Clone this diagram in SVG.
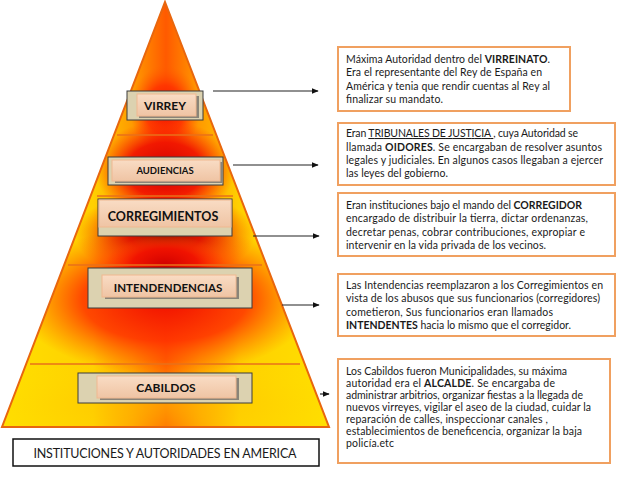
<svg xmlns="http://www.w3.org/2000/svg" width="638" height="479" viewBox="0 0 638 479">
<style>
.lbl{font-family:Lato,"Open Sans","Liberation Sans",sans-serif;font-weight:bold;fill:#111;text-anchor:middle}
.txt{font-family:Lato,"Open Sans","Liberation Sans",sans-serif;font-size:10.5px;fill:#1a1a1a}
.b{font-weight:bold}
.box{fill:#fff;stroke:#f0a060;stroke-width:2}
.outer{fill:#dcd2b0;stroke:#3c3c3c;stroke-width:1}
.inner{fill:url(#peach);stroke:#f0b890;stroke-width:1}
.shadow{fill:#8a8478}
.band{stroke:#e8701a;stroke-width:1.5}
.conn{stroke:#222;stroke-width:1.2;fill:none;marker-end:url(#ah)}
</style>
<defs>
<marker id="ah" viewBox="0 0 10 10" refX="9" refY="5" markerWidth="7" markerHeight="7" orient="auto" markerUnits="userSpaceOnUse"><path d="M0,1 L10,5 L0,9 z" fill="#111"/></marker>
<linearGradient id="hz" x1="0" y1="0" x2="1" y2="0">
<stop offset="0" stop-color="#ffe000"/>
<stop offset="0.28" stop-color="#ffd000"/>
<stop offset="0.4" stop-color="#ff9a00"/>
<stop offset="0.5" stop-color="#ff5a00"/>
<stop offset="0.6" stop-color="#ff9a00"/>
<stop offset="0.72" stop-color="#ffd000"/>
<stop offset="1" stop-color="#ffe000"/>
</linearGradient>
<radialGradient id="r1"><stop offset="0" stop-color="#d00000"/><stop offset="0.55" stop-color="#f01000" stop-opacity="0.9"/><stop offset="1" stop-color="#ff4000" stop-opacity="0"/></radialGradient>
<radialGradient id="r2"><stop offset="0" stop-color="#700000"/><stop offset="0.4" stop-color="#d00000"/><stop offset="1" stop-color="#ff3000" stop-opacity="0"/></radialGradient>
<radialGradient id="r3"><stop offset="0" stop-color="#f01000"/><stop offset="0.55" stop-color="#ff3000" stop-opacity="0.85"/><stop offset="1" stop-color="#ff6000" stop-opacity="0"/></radialGradient>
<radialGradient id="r4"><stop offset="0" stop-color="#ffc000"/><stop offset="1" stop-color="#ffe000" stop-opacity="0"/></radialGradient>
<linearGradient id="peach" x1="0" y1="0" x2="0" y2="1"><stop offset="0" stop-color="#f9dcc4"/><stop offset="1" stop-color="#efc4a4"/></linearGradient>
<clipPath id="pyr"><polygon points="165,2 329,427 2,427"/></clipPath>
</defs>

<g id="pyramid">
<g clip-path="url(#pyr)">
<rect x="0" y="0" width="332" height="430" fill="url(#hz)"/>
<ellipse cx="165" cy="110" rx="35" ry="45" fill="url(#r3)"/>
<ellipse cx="165" cy="170" rx="70" ry="50" fill="url(#r1)"/>
<ellipse cx="165" cy="235" rx="90" ry="45" fill="url(#r2)"/>
<ellipse cx="165" cy="300" rx="150" ry="75" fill="url(#r3)"/>
<ellipse cx="165" cy="265" rx="60" ry="30" fill="url(#r1)"/>
<ellipse cx="165" cy="405" rx="220" ry="45" fill="url(#r4)" opacity="0.6"/>
</g>
<polygon points="165,2 329,427 2,427" fill="none" stroke="#e8660e" stroke-width="2"/>
<line class="band" x1="117" y1="135" x2="213" y2="135"/>
<line class="band" x1="97" y1="196" x2="233" y2="196"/>
<line class="band" x1="68" y1="265" x2="262" y2="265"/>
<line class="band" x1="30" y1="364" x2="300" y2="364"/>
</g>

<g id="virrey">
<rect class="outer" x="127" y="91" width="76" height="29"/>
<rect class="shadow" x="139" y="96" width="60" height="22"/>
<rect class="inner" x="137" y="94" width="59" height="22"/>
<text class="lbl" x="165" y="110" font-size="12">VIRREY</text>
</g>

<g id="audiencias">
<rect class="outer" x="108" y="157" width="115" height="28"/>
<rect class="shadow" x="115" y="162" width="108" height="21"/>
<rect class="inner" x="112" y="160" width="108" height="21"/>
<text class="lbl" x="165" y="174" font-size="9.5">AUDIENCIAS</text>
</g>

<g id="corregimientos">
<rect class="outer" x="98" y="199" width="134" height="37"/>
<rect class="inner" x="99" y="200" width="132" height="27"/>
<text class="lbl" x="163" y="221" font-size="12.5">CORREGIMIENTOS</text>
</g>

<g id="intendencias">
<rect class="outer" x="88" y="268" width="164" height="40"/>
<rect class="shadow" x="105" y="277" width="134" height="22"/>
<rect class="inner" x="102" y="275" width="134" height="22"/>
<text class="lbl" x="168" y="292" font-size="11.5">INTENDENDENCIAS</text>
</g>

<g id="cabildos">
<rect class="outer" x="78" y="373" width="174" height="30"/>
<rect class="shadow" x="100" y="378" width="139" height="22"/>
<rect class="inner" x="97" y="376" width="139" height="22"/>
<text class="lbl" x="166" y="392" font-size="12">CABILDOS</text>
</g>

<g id="title">
<rect x="13" y="439" width="306" height="27" fill="#fff" stroke="#111" stroke-width="1.5"/>
<text x="165" y="458" font-family="Lato,'Open Sans','Liberation Sans',sans-serif" font-size="12.5" fill="#1a1a1a" text-anchor="middle" textLength="263">INSTITUCIONES Y AUTORIDADES EN AMERICA</text>
</g>

<g id="connectors">
<line class="conn" x1="213" y1="91" x2="318" y2="91"/>
<line class="conn" x1="233" y1="165" x2="318" y2="165"/>
<line class="conn" x1="253" y1="236" x2="319" y2="236"/>
<line class="conn" x1="282" y1="305" x2="319" y2="305"/>
<line class="conn" x1="320" y1="394" x2="329" y2="394"/>
</g>

<g id="desc-virrey">
<rect class="box" x="338" y="47" width="232" height="64"/>
<text class="txt" x="346" y="63" textLength="204">Máxima Autoridad dentro del <tspan class="b">VIRREINATO</tspan>.</text>
<text class="txt" x="346" y="76" textLength="196">Era el representante del Rey de España en</text>
<text class="txt" x="346" y="90" textLength="204">América y tenia que rendir cuentas al Rey al</text>
<text class="txt" x="346" y="103" textLength="97">finalizar su mandato.</text>
</g>

<g id="desc-audiencias">
<rect class="box" x="338" y="123" width="277" height="62"/>
<text class="txt" x="346" y="137" textLength="232">Eran <tspan text-decoration="underline">TRIBUNALES DE JUSTICIA </tspan>, cuya Autoridad se</text>
<text class="txt" x="346" y="151" textLength="256">llamada <tspan class="b">OIDORES</tspan>. Se encargaban de resolver asuntos</text>
<text class="txt" x="346" y="164" textLength="257">legales y judiciales. En algunos casos llegaban a ejercer</text>
<text class="txt" x="346" y="177" textLength="102">las leyes del gobierno.</text>
</g>

<g id="desc-corregimientos">
<rect class="box" x="338" y="193" width="277" height="63"/>
<text class="txt" x="346" y="209" textLength="236">Eran instituciones bajo el mando del <tspan class="b">CORREGIDOR</tspan></text>
<text class="txt" x="346" y="222" textLength="242">encargado de  distribuir la tierra, dictar ordenanzas,</text>
<text class="txt" x="346" y="236" textLength="239">decretar penas,  cobrar contribuciones, expropiar e</text>
<text class="txt" x="346" y="249" textLength="200">intervenir en la vida privada de los vecinos.</text>
</g>

<g id="desc-intendencias">
<rect class="box" x="338" y="274" width="277" height="62"/>
<text class="txt" x="346" y="289" textLength="257">Las Intendencias reemplazaron a los Corregimientos en</text>
<text class="txt" x="346" y="302" textLength="254">vista de los abusos que sus funcionarios (corregidores)</text>
<text class="txt" x="346" y="316" textLength="207">cometieron,  Sus funcionarios eran llamados</text>
<text class="txt" x="346" y="329" textLength="225"><tspan class="b">INTENDENTES</tspan>  hacia lo mismo que el corregidor.</text>
</g>

<g id="desc-cabildos">
<rect class="box" x="338" y="359" width="272" height="104"/>
<text class="txt" x="346" y="375" textLength="221">Los Cabildos fueron Municipalidades, su máxima</text>
<text class="txt" x="346" y="387" textLength="209">autoridad era el <tspan class="b">ALCALDE</tspan>. Se encargaba de</text>
<text class="txt" x="346" y="399" textLength="237">administrar arbitrios, organizar fiestas a la llegada de</text>
<text class="txt" x="346" y="411" textLength="245">nuevos virreyes, vigilar el aseo de la ciudad, cuidar la</text>
<text class="txt" x="346" y="423" textLength="202">reparación de calles, inspeccionar canales ,</text>
<text class="txt" x="346" y="435" textLength="236">establecimientos de beneficencia, organizar la baja</text>
<text class="txt" x="346" y="447" textLength="48">policía.etc</text>
</g>
</svg>
